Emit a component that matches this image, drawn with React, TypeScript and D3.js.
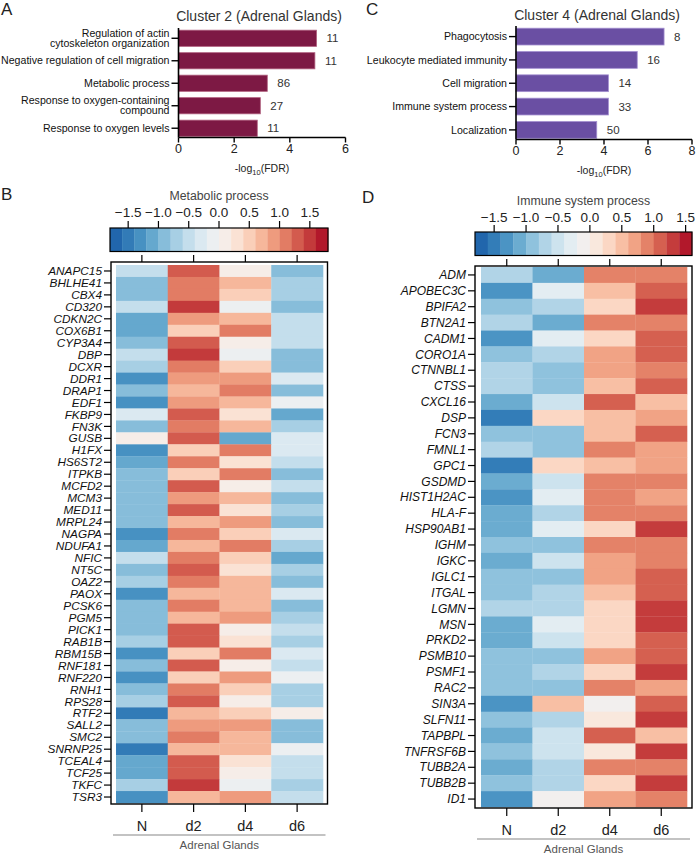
import React from 'react';
import * as d3 from 'd3';

const FONT = '"Liberation Sans", Arial, Helvetica, sans-serif';

// ---- GO enrichment bars ----
const clusterTwoTerms = [
  'Regulation of actin\ncytoskeleton organization',
  'Negative regulation of cell migration',
  'Metabolic process',
  'Response to oxygen-containing\ncompound',
  'Response to oxygen levels',
];
const clusterTwoFdr = [4.96, 4.9, 3.19, 2.94, 2.83];
const clusterTwoCounts = [11, 11, 86, 27, 11];

const clusterFourTerms = [
  'Phagocytosis',
  'Leukocyte mediated immunity',
  'Cell migration',
  'Immune system process',
  'Localization',
];
const clusterFourFdr = [6.73, 5.51, 4.2, 4.2, 3.67];
const clusterFourCounts = [8, 16, 14, 33, 50];

// ---- heatmaps ----
const timepoints = ['N', 'd2', 'd4', 'd6'];
const scaleTicks = [-1.5, -1.0, -0.5, 0.0, 0.5, 1.0, 1.5];

const metabolicGenes = [
  'ANAPC15', 'BHLHE41', 'CBX4', 'CD320', 'CDKN2C', 'COX6B1', 'CYP3A4', 'DBP', 'DCXR', 'DDR1',
  'DRAP1', 'EDF1', 'FKBP9', 'FN3K', 'GUSB', 'H1FX', 'HS6ST2', 'ITPKB', 'MCFD2', 'MCM3',
  'MED11', 'MRPL24', 'NAGPA', 'NDUFA1', 'NFIC', 'NT5C', 'OAZ2', 'PAOX', 'PCSK6', 'PGM5',
  'PICK1', 'RAB1B', 'RBM15B', 'RNF181', 'RNF220', 'RNH1', 'RPS28', 'RTF2', 'SALL2', 'SMC2',
  'SNRNP25', 'TCEAL4', 'TCF25', 'TKFC', 'TSR3',
];
const metabolicN = [
  -0.5, -0.9, -0.9, -0.5, -1.1, -1.1, -0.9, -0.5, -0.7, -1.3,
  -0.9, -1.3, -0.3, -0.9, 0.1, -1.3, -1.1, -0.9, -0.9, -0.9,
  -0.9, -0.9, -1.3, -1.1, -0.5, -0.9, -0.7, -1.3, -0.9, -0.9,
  -0.9, -0.7, -1.3, -0.9, -1.3, -0.9, -0.7, -1.5, -0.9, -0.9,
  -1.5, -1.1, -1.1, -0.7, -1.3,
];
const metabolicD2 = [
  1.3, 1.1, 1.1, 1.5, 0.9, 0.5, 1.3, 1.5, 1.1, 0.9,
  0.7, 0.9, 1.3, 1.1, 1.3, 0.5, 1.1, 0.5, 1.3, 0.9,
  1.3, 0.7, 1.1, 0.7, 1.1, 1.3, 1.1, 0.7, 1.1, 0.7,
  1.3, 1.3, 0.5, 1.3, 0.5, 1.1, 1.3, 0.7, 0.9, 1.1,
  0.7, 1.3, 1.3, 1.5, 0.7,
];
const metabolicD4 = [
  0.1, 0.7, 0.5, -0.1, 0.7, 1.1, 0.1, -0.1, 0.5, 0.9,
  1.1, 0.7, 0.3, 0.7, -1.1, 1.1, 0.3, 1.1, 0.1, 0.7,
  0.3, 0.9, 0.5, 1.1, 0.5, 0.3, 0.7, 0.7, 0.7, 0.9,
  0.1, 0.3, 1.1, 0.1, 0.9, 0.5, 0.1, 0.5, 0.9, 0.7,
  0.7, 0.3, 0.1, -0.1, 0.9,
];
const metabolicD6 = [
  -0.9, -0.7, -0.7, -0.9, -0.5, -0.5, -0.5, -0.9, -0.9, -0.3,
  -0.9, -0.1, -1.1, -0.7, -0.3, -0.3, -0.5, -0.9, -0.5, -0.9,
  -0.7, -0.9, -0.3, -0.7, -1.1, -0.7, -0.9, -0.3, -0.9, -0.7,
  -0.5, -0.7, -0.3, -0.5, -0.1, -0.7, -0.7, 0.1, -0.9, -0.9,
  -0.1, -0.5, -0.5, -0.7, -0.5,
];

const immuneGenes = [
  'ADM', 'APOBEC3C', 'BPIFA2', 'BTN2A1', 'CADM1', 'CORO1A', 'CTNNBL1', 'CTSS', 'CXCL16', 'DSP',
  'FCN3', 'FMNL1', 'GPC1', 'GSDMD', 'HIST1H2AC', 'HLA-F', 'HSP90AB1', 'IGHM', 'IGKC', 'IGLC1',
  'ITGAL', 'LGMN', 'MSN', 'PRKD2', 'PSMB10', 'PSMF1', 'RAC2', 'SIN3A', 'SLFN11', 'TAPBPL',
  'TNFRSF6B', 'TUBB2A', 'TUBB2B', 'ID1',
];
const immuneN = [
  -0.7, -1.3, -0.9, -0.7, -1.3, -0.9, -0.7, -0.7, -1.1, -1.5,
  -0.9, -0.7, -1.5, -1.1, -1.3, -1.1, -1.1, -0.9, -1.1, -0.9,
  -0.9, -0.7, -1.1, -1.1, -0.9, -0.9, -0.9, -1.3, -0.9, -1.1,
  -0.9, -1.1, -0.9, -1.3,
];
const immuneD2 = [
  -1.1, -0.3, -0.7, -1.1, -0.3, -0.7, -0.9, -0.9, -0.5, 0.3,
  -0.9, -0.9, 0.3, -0.5, -0.3, -0.7, -0.3, -0.9, -0.5, -0.9,
  -0.7, -0.7, -0.3, -0.5, -0.9, -0.7, -0.9, 0.5, -0.7, -0.5,
  -0.5, -0.7, -0.7, -0.1,
];
const immuneD4 = [
  0.9, 0.5, 0.3, 0.9, 0.3, 0.7, 0.7, 0.5, 1.1, 0.5,
  0.5, 0.9, 0.5, 0.9, 0.9, 0.9, 0.3, 0.9, 0.7, 0.7,
  0.5, 0.3, 0.3, 0.3, 0.7, 0.3, 0.9, -0.1, 0.1, 1.1,
  0.1, 0.9, 0.3, 0.7,
];
const immuneD6 = [
  0.9, 1.1, 1.3, 0.9, 1.1, 1.1, 0.9, 1.1, 0.5, 0.7,
  1.1, 0.7, 0.7, 0.9, 0.7, 0.9, 1.3, 0.9, 0.9, 1.1,
  1.1, 1.3, 1.3, 1.1, 1.1, 1.3, 0.7, 1.1, 1.3, 0.5,
  1.3, 0.9, 1.3, 0.9,
];

const rdbu = d3.interpolateRgbBasis([
  '#2166AC', '#4393C3', '#92C5DE', '#D1E5F0', '#F7F7F7', '#FDDBC7', '#F4A582', '#D6604D', '#B2182B',
]);

const fmt = d3.format('.1f');

function BarPanel(props: any) {
  const { terms, fdr, counts, fill, edge, title, xMax, xTicks, x0, x1, y0, y1, titleX, titleY } = props;
  const x = d3.scaleLinear().domain([0, xMax]).range([x0, x1]);
  const y = d3.scaleBand<string>().domain(terms).range([y0 + 1.5, y1]).paddingInner(0.28).paddingOuter(0.03);
  const axisY = y1 + 0.5;
  const mid = (x0 + x1) / 2;
  return (
    <g fontFamily={FONT}>
      <text x={titleX} y={titleY} textAnchor="middle" fontSize={14} fill="#333">{title}</text>
      {terms.map((t: string, i: number) => {
        const cy = (y(t) as number) + y.bandwidth() / 2;
        const lines = t.split('\n');
        return (
          <g key={t}>
            <rect x={x(0)} y={y(t)} width={x(fdr[i]) - x(0)} height={y.bandwidth()}
              fill={fill} stroke={edge} strokeWidth={0.8} />
            <line x1={x0 - 7} x2={x0} y1={cy} y2={cy} stroke="#000" strokeWidth={1.4} />
            {lines.map((l, j) => (
              <text key={j} x={x0 - 9} y={cy + (j - (lines.length - 1) / 2) * 10} dy="0.35em"
                textAnchor="end" fontSize={10.6} fill="#111">{l}</text>
            ))}
            <text x={x(fdr[i]) + 10} y={cy} dy="0.36em" fontSize={11.5} fill="#333">{counts[i]}</text>
          </g>
        );
      })}
      <line x1={x0} x2={x0} y1={y0} y2={axisY} stroke="#000" strokeWidth={1.6} />
      <line x1={x0} x2={x1} y1={axisY} y2={axisY} stroke="#000" strokeWidth={1.6} />
      {xTicks.map((v: number) => (
        <g key={v}>
          <line x1={x(v)} x2={x(v)} y1={axisY} y2={axisY + 5} stroke="#000" strokeWidth={1.4} />
          <text x={x(v)} y={axisY + 15.5} textAnchor="middle" fontSize={12.5} fill="#222">{v}</text>
        </g>
      ))}
      <text x={mid} y={axisY + 34} textAnchor="middle" fontSize={10.5} fill="#222">
        <tspan>-log</tspan>
        <tspan fontSize={7.5} dy={3}>10</tspan>
        <tspan dy={-3}>(FDR)</tspan>
      </text>
    </g>
  );
}

function Heatmap(props: any) {
  const { title, genes, cols, lo, hi, bins, L } = props;
  const colors = d3.range(bins).map((i) => rdbu(i / (bins - 1)));
  const color = d3.scaleQuantize<string>().domain([lo, hi]).range(colors);
  const cbx = d3.scaleLinear().domain([lo, hi]).range([L.cbX0, L.cbX1]);
  const edges = d3.range(bins + 1).map((i) => lo + ((hi - lo) * i) / bins);
  const xb = d3.scaleBand<string>().domain(timepoints).range([L.cellX0, L.cellX1]);
  const yb = d3.scaleBand<string>().domain(genes).range([L.cellY0, L.cellY1]);
  const cbMid = (L.cbX0 + L.cbX1) / 2;
  const frameMid = (L.fX0 + L.fX1) / 2;
  return (
    <g fontFamily={FONT}>
      <text x={cbMid} y={L.titleY} textAnchor="middle" fontSize={12.3} fill="#444">{title}</text>
      {scaleTicks.map((v) => (
        <g key={v}>
          <text x={cbx(v)} y={L.tickLabelY} textAnchor="middle" fontSize={13.5} fill="#222">{fmt(v)}</text>
          <line x1={cbx(v)} x2={cbx(v)} y1={L.cbY - 7} y2={L.cbY} stroke="#000" strokeWidth={1.2} />
        </g>
      ))}
      {colors.map((c, i) => (
        <rect key={i} x={cbx(edges[i])} y={L.cbY} width={cbx(edges[i + 1]) - cbx(edges[i]) + 0.3}
          height={L.cbH} fill={c} />
      ))}
      <rect x={L.cbX0} y={L.cbY} width={L.cbX1 - L.cbX0} height={L.cbH} fill="none" stroke="#000" strokeWidth={1.2} />
      {timepoints.map((t) => {
        const cx = (xb(t) as number) + xb.bandwidth() / 2;
        return (
          <g key={t}>
            <line x1={cx} x2={cx} y1={L.fY0 - 7} y2={L.fY0} stroke="#000" strokeWidth={1.2} />
            <line x1={cx} x2={cx} y1={L.fY1} y2={L.fY1 + 8} stroke="#000" strokeWidth={1.2} />
            <text x={cx} y={L.fY1 + 27} textAnchor="middle" fontSize={14.5} fill="#222">{t}</text>
          </g>
        );
      })}
      {genes.map((g: string, r: number) => {
        const cy = (yb(g) as number) + yb.bandwidth() / 2;
        return (
          <g key={g}>
            {timepoints.map((t, c) => (
              <rect key={t} x={xb(t)} y={yb(g)} width={xb.bandwidth() + 0.3} height={yb.bandwidth() + 0.3}
                fill={color(cols[c][r])} />
            ))}
            <line x1={L.fX0 - 7} x2={L.fX0} y1={cy} y2={cy} stroke="#000" strokeWidth={1.2} />
            <text x={L.fX0 - 9} y={cy} dy="0.35em" textAnchor="end" fontSize={L.geneFont}
              fontStyle="italic" fill="#111">{g}</text>
          </g>
        );
      })}
      <rect x={L.fX0} y={L.fY0} width={L.fX1 - L.fX0} height={L.fY1 - L.fY0} fill="none" stroke="#000" strokeWidth={1.4} />
      <line x1={L.fX0 + 2} x2={L.fX1 - 2} y1={L.fY1 + 31} y2={L.fY1 + 31} stroke="#888" strokeWidth={1.2} />
      <text x={frameMid} y={L.fY1 + 45} textAnchor="middle" fontSize={11.5} fill="#555">Adrenal Glands</text>
    </g>
  );
}

export default function App() {
  const layoutB = {
    titleY: 200, tickLabelY: 217, cbX0: 110, cbX1: 328, cbY: 228, cbH: 23.5,
    fX0: 111, fX1: 327.5, fY0: 262, fY1: 804,
    cellX0: 116, cellX1: 323, cellY0: 265, cellY1: 803, geneFont: 11.8,
  };
  const layoutD = {
    titleY: 205, tickLabelY: 222, cbX0: 475, cbX1: 692, cbY: 232, cbH: 23.5,
    fX0: 475, fX1: 692, fY0: 266, fY1: 808,
    cellX0: 481, cellX1: 687, cellY0: 267, cellY1: 807, geneFont: 12,
  };
  return (
    <svg width={696} height={855} style={{ position: 'absolute', left: 0, top: 0, background: '#fff' }}>
      <rect width={696} height={855} fill="#fff" />
      <g fontFamily={FONT} fontSize={17} fill="#222">
        <text x={1} y={15}>A</text>
        <text x={366} y={15}>C</text>
        <text x={1} y={200}>B</text>
        <text x={362} y={203}>D</text>
      </g>
      <BarPanel terms={clusterTwoTerms} fdr={clusterTwoFdr} counts={clusterTwoCounts}
        fill="#7d1944" edge="#b0607f" title="Cluster 2 (Adrenal Glands)"
        xMax={6} xTicks={[0, 2, 4, 6]} x0={178.5} x1={345.5} y0={28} y1={137}
        titleX={259} titleY={21} />
      <BarPanel terms={clusterFourTerms} fdr={clusterFourFdr} counts={clusterFourCounts}
        fill="#6a4fa3" edge="#a38fd0" title="Cluster 4 (Adrenal Glands)"
        xMax={8} xTicks={[0, 2, 4, 6, 8]} x0={516} x1={692} y0={26} y1={139}
        titleX={597} titleY={20} />
      <Heatmap title="Metabolic process" genes={metabolicGenes}
        cols={[metabolicN, metabolicD2, metabolicD4, metabolicD6]} lo={-1.8} hi={1.8} bins={18} L={layoutB} />
      <Heatmap title="Immune system process" genes={immuneGenes}
        cols={[immuneN, immuneD2, immuneD4, immuneD6]} lo={-1.8} hi={1.6} bins={17} L={layoutD} />
    </svg>
  );
}
